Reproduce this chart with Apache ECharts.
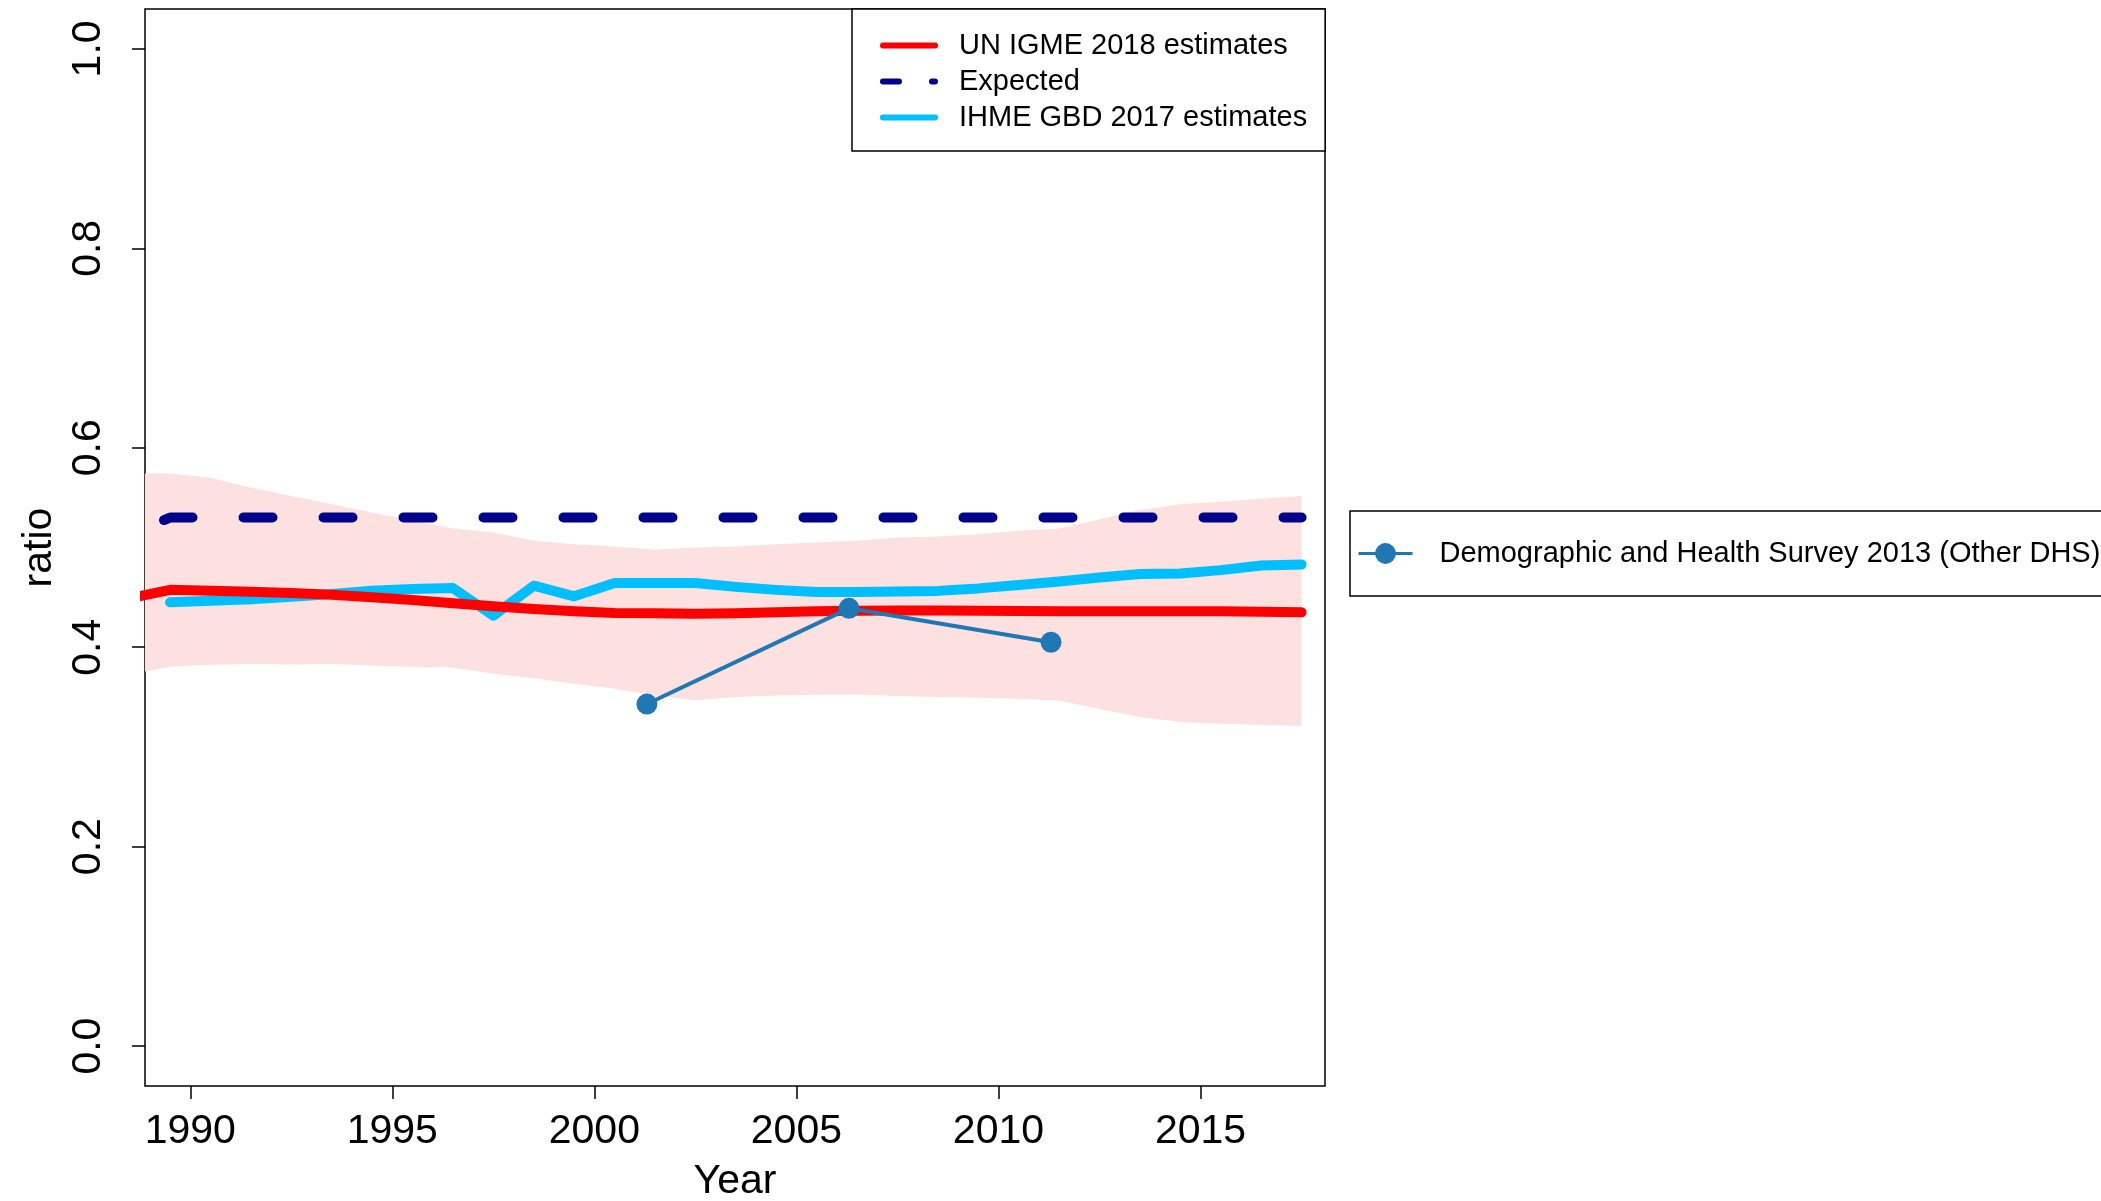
<!DOCTYPE html>
<html>
<head>
<meta charset="utf-8">
<script src="https://cdn.jsdelivr.net/npm/echarts@6/dist/echarts.min.js"></script>
<style>
html,body{margin:0;padding:0;background:#fff;}
#chart{width:2101px;height:1201px;}
</style>
</head>
<body>
<div id="chart"></div>
<script>
// ---- data ----
const xTicks = [1990, 1995, 2000, 2005, 2010, 2015];
const yTicks = [0, 0.2, 0.4, 0.6, 0.8, 1.0];

const igmeYears = [1988.5,1989.5,1990.5,1991.5,1992.5,1993.5,1994.5,1995.5,1996.5,1997.5,1998.5,1999.5,2000.5,2001.5,2002.5,2003.5,2004.5,2005.5,2006.5,2007.5,2008.5,2009.5,2010.5,2011.5,2012.5,2013.5,2014.5,2015.5,2016.5,2017.5];
const igmeMedian = [0.449,0.4576,0.4566,0.4556,0.4543,0.4527,0.450,0.4473,0.444,0.441,0.4383,0.436,0.4343,0.434,0.4336,0.434,0.435,0.436,0.4366,0.4368,0.4368,0.4366,0.4364,0.436,0.436,0.436,0.436,0.436,0.4356,0.435];
const igmeLower = [0.3727,0.3807,0.3823,0.3833,0.3827,0.3833,0.3817,0.3803,0.3797,0.3733,0.369,0.3633,0.3583,0.3517,0.3467,0.350,0.3517,0.3523,0.3527,0.351,0.350,0.3493,0.3483,0.3465,0.338,0.330,0.325,0.3233,0.3223,0.321];
const igmeUpper = [0.5743,0.5743,0.570,0.560,0.5517,0.5433,0.535,0.5267,0.519,0.515,0.5067,0.5033,0.501,0.4977,0.500,0.501,0.5033,0.505,0.5067,0.510,0.511,0.5133,0.5167,0.519,0.528,0.5377,0.5433,0.546,0.549,0.5517];

const expectedYears = [1989.35,1989.5,1990.5,1991.5,1992.5,1993.5,1994.5,1995.5,1996.5,1997.5,1998.5,1999.5,2000.5,2001.5,2002.5,2003.5,2004.5,2005.5,2006.5,2007.5,2008.5,2009.5,2010.5,2011.5,2012.5,2013.5,2014.5,2015.5,2016.5,2017.5];
const expectedValues = [0.5275,0.53,0.53,0.53,0.53,0.53,0.53,0.53,0.53,0.53,0.53,0.53,0.53,0.53,0.53,0.53,0.53,0.53,0.53,0.53,0.53,0.53,0.53,0.53,0.53,0.53,0.53,0.53,0.53,0.53];

const ihmeYears = [1989.5,1990.5,1991.5,1992.5,1993.5,1994.5,1995.5,1996.5,1997.5,1998.5,1999.5,2000.5,2001.5,2002.5,2003.5,2004.5,2005.5,2006.5,2007.5,2008.5,2009.5,2010.5,2011.5,2012.5,2013.5,2014.5,2015.5,2016.5,2017.5];
const ihmeValues = [0.445,0.4465,0.448,0.4505,0.4533,0.4566,0.4583,0.4593,0.4317,0.4617,0.451,0.4645,0.4645,0.4643,0.4605,0.4575,0.4553,0.4553,0.456,0.4565,0.459,0.4625,0.466,0.470,0.4735,0.474,0.4773,0.482,0.483];

const dhsYears = [2001.3, 2006.3, 2011.3];
const dhsValues = [0.343, 0.439, 0.405];

const NAME_IGME = 'UN IGME 2018 estimates';
const NAME_EXP = 'Expected';
const NAME_IHME = 'IHME GBD 2017 estimates';
const NAME_DHS = 'Demographic and Health Survey 2013 (Other DHS)';

// ---- build series data ----
const pairs = (xs, ys) => xs.map((x, i) => [x, ys[i]]);
const bandData = igmeYears.map((x, i) => [x, igmeLower[i], igmeUpper[i]]);

const FONT = 'Liberation Sans, Arial, Helvetica, sans-serif';

const chart = echarts.init(document.getElementById('chart'), null, {renderer: 'canvas'});

function renderBand(params, api) {
  if (params.dataIndex !== 0) return null;
  const n = params.dataInsideLength;
  const upper = [], lower = [];
  for (let i = 0; i < n; i++) {
    const x = api.value(0, i);
    upper.push(api.coord([x, api.value(2, i)]));
    lower.push(api.coord([x, api.value(1, i)]));
  }
  const pts = upper.concat(lower.reverse());
  const cs = params.coordSys;
  return {
    type: 'polygon',
    shape: {points: pts},
    style: {fill: '#FDE0E0', stroke: null},
    clipPath: {type: 'rect', shape: {x: cs.x, y: cs.y, width: cs.width, height: cs.height}},
    silent: true
  };
}

const option = {
  animation: false,
  backgroundColor: '#ffffff',
  textStyle: {fontFamily: FONT, color: '#000'},
  grid: {
    left: 145, top: 9, width: 1180, height: 1077,
    show: true, borderColor: '#000', borderWidth: 1.5, backgroundColor: 'transparent',
    containLabel: false, outerBoundsMode: 'none'
  },
  xAxis: {
    type: 'value', min: 1988.88, max: 2018.08,
    name: 'Year', nameLocation: 'middle', nameGap: 75,
    nameTextStyle: {fontSize: 41, fontFamily: FONT, color: '#000'},
    axisLine: {show: false, onZero: false},
    splitLine: {show: false},
    axisTick: {show: true, length: 13, inside: false, customValues: xTicks, lineStyle: {color: '#000', width: 1.5}},
    axisLabel: {show: true, customValues: xTicks, fontSize: 41, fontFamily: FONT, color: '#000', margin: 25,
      formatter: v => String(Math.round(v))}
  },
  yAxis: {
    type: 'value', min: -0.04, max: 1.04,
    name: 'ratio', nameLocation: 'middle', nameGap: 82, nameRotate: 90,
    nameTextStyle: {fontSize: 41, fontFamily: FONT, color: '#000'},
    axisLine: {show: false, onZero: false},
    splitLine: {show: false},
    axisTick: {show: true, length: 13, inside: false, customValues: yTicks, lineStyle: {color: '#000', width: 1.5}},
    axisLabel: {show: true, customValues: yTicks, rotate: 90, fontSize: 41, fontFamily: FONT, color: '#000', margin: 36,
      formatter: v => v.toFixed(1)}
  },
  legend: [
    {
      orient: 'vertical', left: 852, top: 9,
      padding: [22, 18, 19, 28],
      itemWidth: 52, itemHeight: 29, itemGap: 7,
      borderColor: '#000', borderWidth: 1.5, backgroundColor: '#fff',
      selectedMode: false,
      textStyle: {fontSize: 29, lineHeight: 29, fontFamily: FONT, color: '#000', padding: [0, 0, 0, 19]},
      data: [
        {name: NAME_IGME, itemStyle: {opacity: 0}, lineStyle: {width: 6, cap: 'round'}},
        {name: NAME_EXP, itemStyle: {opacity: 0}, lineStyle: {width: 6, cap: 'round', type: [16, 33]}},
        {name: NAME_IHME, itemStyle: {opacity: 0}, lineStyle: {width: 6, cap: 'round'}}
      ]
    },
    {
      orient: 'vertical', left: 1350, top: 511,
      padding: [28, 20, 28, 7],
      itemWidth: 54, itemHeight: 26,
      borderColor: '#000', borderWidth: 1.5, backgroundColor: '#fff',
      selectedMode: false,
      textStyle: {fontSize: 29, lineHeight: 29, fontFamily: FONT, color: '#000', padding: [0, 0, 0, 22]},
      data: [
        {name: NAME_DHS, lineStyle: {width: 3}}
      ]
    }
  ],
  series: [
    {
      name: 'band', type: 'custom', data: bandData,
      encode: {x: 0, y: [1, 2]},
      renderItem: renderBand, clip: true, silent: true, z: 1
    },
    {
      name: NAME_EXP, type: 'line', data: pairs(expectedYears, expectedValues),
      symbol: 'none', showSymbol: false, clip: true, color: '#00008B',
      lineStyle: {color: '#00008B', width: 10, type: [29, 51], cap: 'round', join: 'round'}, z: 3
    },
    {
      name: NAME_IHME, type: 'line', data: pairs(ihmeYears, ihmeValues),
      symbol: 'none', showSymbol: false, clip: true, color: '#00BFFF',
      lineStyle: {color: '#00BFFF', width: 10, cap: 'round', join: 'round'}, z: 4
    },
    {
      name: NAME_IGME, type: 'line', data: pairs(igmeYears, igmeMedian),
      symbol: 'none', showSymbol: false, clip: true, color: '#FF0000',
      lineStyle: {color: '#FF0000', width: 10, cap: 'round', join: 'round'}, z: 5
    },
    {
      name: NAME_DHS, type: 'line', data: pairs(dhsYears, dhsValues),
      symbol: 'circle', symbolSize: 21, showSymbol: true, clip: true, color: '#1F77B4',
      itemStyle: {color: '#1F77B4'},
      lineStyle: {color: '#1F77B4', width: 4}, z: 6
    }
  ]
};
chart.setOption(option);
</script>
</body>
</html>
